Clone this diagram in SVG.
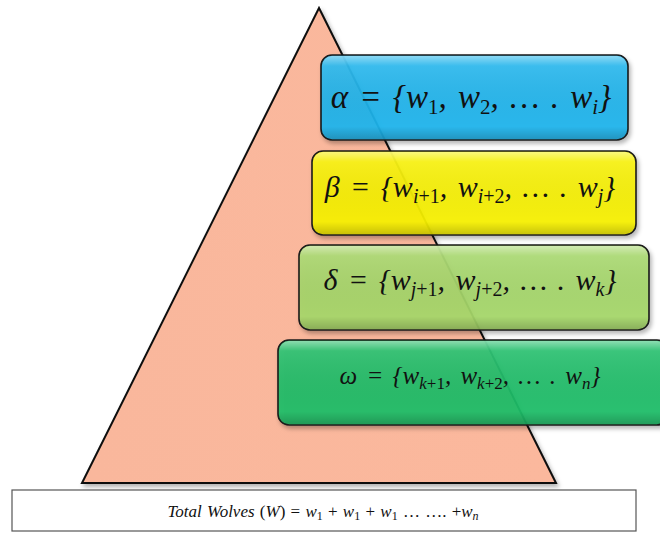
<svg xmlns="http://www.w3.org/2000/svg" width="660" height="534" viewBox="0 0 660 534">
<style>
.box{stroke:#1a1a1a;stroke-width:1.6;}
.m{font-family:"Liberation Serif","DejaVu Serif",serif;font-style:italic;fill:#111;word-spacing:3px;}
.n{font-style:normal;}
</style>
<defs>
<linearGradient id="gl" x1="0" y1="0" x2="0" y2="1">
<stop offset="0" stop-color="#fff" stop-opacity="0.45"/>
<stop offset="0.12" stop-color="#fff" stop-opacity="0.08"/>
<stop offset="0.85" stop-color="#000" stop-opacity="0"/>
<stop offset="1" stop-color="#000" stop-opacity="0.18"/>
</linearGradient>
<linearGradient id="tri" x1="0" y1="0" x2="1" y2="0">
<stop offset="0" stop-color="#f9b79c"/>
<stop offset="1" stop-color="#fbb89d"/>
</linearGradient>
<filter id="sh" x="-5%" y="-5%" width="112%" height="120%">
<feDropShadow dx="2" dy="3" stdDeviation="2" flood-color="#000" flood-opacity="0.3"/>
</filter>
</defs>
<g id="pyramid">
<polygon points="319,8 556,483 82,483" fill="url(#tri)" stroke="#111" stroke-width="2" stroke-linejoin="miter" filter="url(#sh)"/>
</g>
<g id="alpha">
<rect class="box" x="321" y="55" width="307" height="85" rx="11" fill="#1db5ee" fill-opacity="0.92" filter="url(#sh)"/>
<rect x="322" y="56" width="305" height="83" rx="10" fill="url(#gl)"/>
<text class="m" x="471" y="108" font-size="33" text-anchor="middle">α = {w<tspan font-size="21" dy="6" class="n">1</tspan><tspan dy="-6">, w</tspan><tspan font-size="21" dy="6" class="n">2</tspan><tspan dy="-6">, … . w</tspan><tspan font-size="21" dy="6">i</tspan><tspan dy="-6">}</tspan></text>
</g>
<g id="beta">
<rect class="box" x="312" y="151" width="324" height="84" rx="11" fill="#f8f200" fill-opacity="0.92" filter="url(#sh)"/>
<rect x="313" y="152" width="322" height="82" rx="10" fill="url(#gl)"/>
<text class="m" x="470" y="197" font-size="30" text-anchor="middle">β = {w<tspan font-size="20" dy="6">i</tspan><tspan font-size="20" class="n">+1</tspan><tspan dy="-6">, w</tspan><tspan font-size="20" dy="6">i</tspan><tspan font-size="20" class="n">+2</tspan><tspan dy="-6">, … . w</tspan><tspan font-size="20" dy="6">j</tspan><tspan dy="-6">}</tspan></text>
</g>
<g id="delta">
<rect class="box" x="299" y="245" width="350" height="85" rx="11" fill="#a6d86a" fill-opacity="0.92" filter="url(#sh)"/>
<rect x="300" y="246" width="348" height="83" rx="10" fill="url(#gl)"/>
<text class="m" x="470" y="290" font-size="30" text-anchor="middle">δ = {w<tspan font-size="20" dy="6">j</tspan><tspan font-size="20" class="n">+1</tspan><tspan dy="-6">, w</tspan><tspan font-size="20" dy="6">j</tspan><tspan font-size="20" class="n">+2</tspan><tspan dy="-6">, … . w</tspan><tspan font-size="20" dy="6">k</tspan><tspan dy="-6">}</tspan></text>
</g>
<g id="omega">
<rect class="box" x="278" y="340" width="390" height="85" rx="11" fill="#21bf68" fill-opacity="0.92" filter="url(#sh)"/>
<rect x="279" y="341" width="388" height="83" rx="10" fill="url(#gl)"/>
<text class="m" x="470" y="384" font-size="25" text-anchor="middle">ω = {w<tspan font-size="17" dy="5">k</tspan><tspan font-size="17" class="n">+1</tspan><tspan dy="-5">, w</tspan><tspan font-size="17" dy="5">k</tspan><tspan font-size="17" class="n">+2</tspan><tspan dy="-5">, … . w</tspan><tspan font-size="17" dy="5">n</tspan><tspan dy="-5">}</tspan></text>
</g>
<g id="total">
<rect x="12" y="490" width="624" height="41" fill="#fff" stroke="#555" stroke-width="1.2"/>
<text class="m" x="323" y="517" font-size="17" text-anchor="middle" style="word-spacing:1px">Total Wolves <tspan class="n">(</tspan>W<tspan class="n">) = </tspan>w<tspan font-size="12" dy="3" class="n">1</tspan><tspan dy="-3" class="n"> + </tspan>w<tspan font-size="12" dy="3" class="n">1</tspan><tspan dy="-3" class="n"> + </tspan>w<tspan font-size="12" dy="3" class="n">1</tspan><tspan dy="-3" class="n"> … …. +</tspan>w<tspan font-size="12" dy="3">n</tspan></text>
</g>
<g id="connectors"></g>
</svg>
